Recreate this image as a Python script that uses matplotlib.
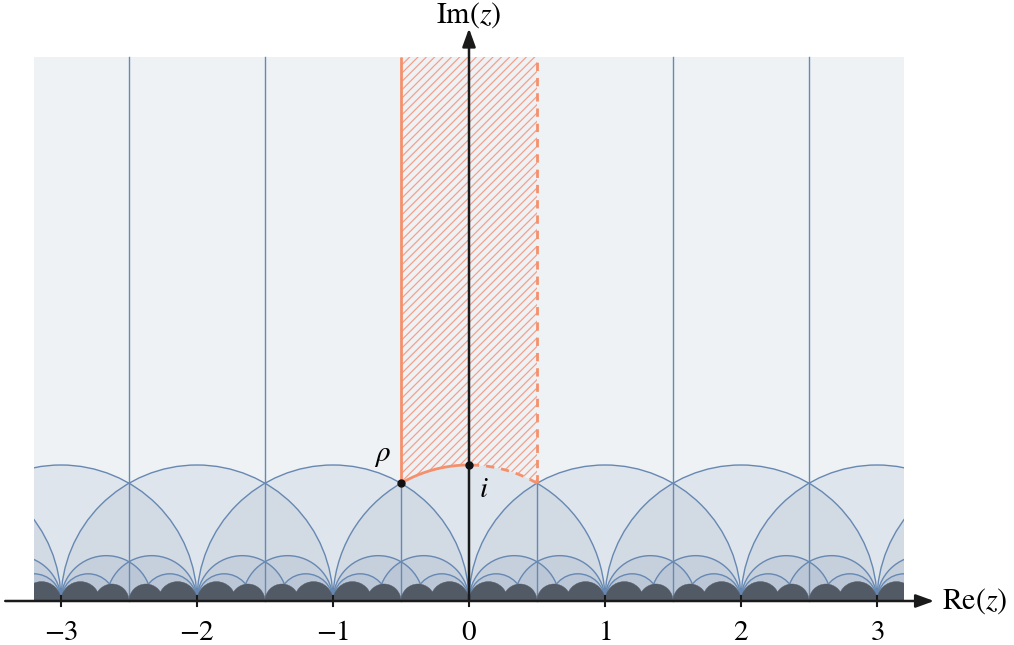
import numpy as np
import matplotlib.pyplot as plt
from matplotlib.patches import Rectangle, Wedge, Arc, Polygon
from math import gcd

# geodesics of the modular tessellation: radius = 1/(q*s) for cusps p/q, r/s
line_levels = [1, 3, 5]      # half-discs drawn with outlines and light fill
dark_levels = [7, 8]         # half-discs filled solid near the real axis
half_lines = [-2.5, -1.5, -0.5, 0.5, 1.5, 2.5]
ticks = [-3, -2, -1, 0, 1, 2, 3]
tick_labels = ['$-3$', '$-2$', '$-1$', '$0$', '$1$', '$2$', '$3$']
x_min, x_max, y_top = -3.2, 3.2, 4.0

bg_col = '#eef2f5'
fill_col = '#627aa5'
line_col = '#6688b2'
dark_col = '#525a66'
salmon = '#f4916c'
hatch_col = '#f4a08a'

plt.rcParams['mathtext.fontset'] = 'stix'
plt.rcParams['hatch.linewidth'] = 0.9


def geodesics(k):
    out = []
    for q in range(1, k + 1):
        if k % q:
            continue
        s = k // q
        if (q - s) % 2:
            continue
        for p in range(-5 * q, 5 * q + 1):
            if gcd(p, q) != 1 or (p * s + 2) % q:
                continue
            r = (p * s + 2) // q
            if gcd(r, s) != 1 or (r - p) % 2:
                continue
            a, b = p / q, r / s
            if b < x_min - 0.1 or a > x_max + 0.1:
                continue
            out.append(((a + b) / 2, (b - a) / 2))
    return out


fig = plt.figure(figsize=(10.14, 6.45), dpi=100)
ax = fig.add_axes([0, 0, 1, 1])
ax.set_xlim(-469 / 136, (1014 - 469) / 136)
ax.set_ylim(-(645 - 601) / 136, 601 / 136)
ax.axis('off')

bg = Rectangle((x_min, 0), x_max - x_min, y_top, fc=bg_col, ec='none', zorder=1)
ax.add_patch(bg)

# light nested fills + outlines
for k in line_levels:
    for c, r in geodesics(k):
        w = Wedge((c, 0), r, 0, 180, fc=fill_col, alpha=0.1, lw=0, zorder=2)
        ax.add_patch(w)
        w.set_clip_path(bg)
        spans = [(0, 60), (120, 180)] if (k == 1 and abs(c) < 1e-9) else [(0, 180)]
        for t1, t2 in spans:
            a = Arc((c, 0), 2 * r, 2 * r, theta1=t1, theta2=t2, color=line_col, lw=1.0, zorder=3)
            ax.add_patch(a)
            a.set_clip_path(bg)

h = np.sqrt(3) / 2
for x in half_lines:
    top = h if abs(x) == 0.5 else y_top
    ax.plot([x, x], [0, top], color=line_col, lw=1.0, zorder=3)

# dark region near the real axis
for k in dark_levels:
    for c, r in geodesics(k):
        w = Wedge((c, 0), r, 0, 180, fc=dark_col, ec=dark_col, lw=0.3, zorder=4)
        ax.add_patch(w)
        w.set_clip_path(bg)

# fundamental domain
th = np.linspace(np.pi / 3, 2 * np.pi / 3, 60)
verts = [(-0.5, y_top), (0.5, y_top)] + list(zip(np.cos(th), np.sin(th)))
ax.add_patch(Polygon(verts, closed=True, fc='none', ec=hatch_col, lw=0, hatch='////', zorder=5))

ax.plot([-0.5, -0.5], [h, y_top], color=salmon, lw=2.0, zorder=6, solid_capstyle='butt')
ax.plot([0.5, 0.5], [h, y_top], color=salmon, lw=2.0, zorder=6, ls=(0, (3, 2.5)))
t_solid = np.linspace(np.pi / 2, 2 * np.pi / 3, 40)
t_dash = np.linspace(np.pi / 3, np.pi / 2, 40)
ax.plot(np.cos(t_solid), np.sin(t_solid), color=salmon, lw=2.0, zorder=6)
ax.plot(np.cos(t_dash), np.sin(t_dash), color=salmon, lw=2.0, zorder=6, ls=(0, (3, 2.5)))

# axes
arrow = dict(arrowstyle='-|>,head_length=0.55,head_width=0.2', lw=1.8, color='#1a1a1a',
             shrinkA=0, shrinkB=0, mutation_scale=20)
ax.annotate('', xy=(3.42, 0), xytext=(-3.41, 0), arrowprops=arrow, zorder=7)
ax.annotate('', xy=(0, 4.21), xytext=(0, 0), arrowprops=arrow, zorder=7)
for t, lab in zip(ticks, tick_labels):
    ax.plot([t, t], [-0.04, 0.04], color='#1a1a1a', lw=1.5, zorder=7)
    ax.text(t, -0.225, lab, ha='center', va='center', fontsize=21)

ax.text(3.48, 0.0, r'$\mathrm{Re}(z)$', ha='left', va='center', fontsize=21.5)
ax.text(0.0, 4.31, r'$\mathrm{Im}(z)$', ha='center', va='center', fontsize=21.5)

ax.plot([-0.5, 0], [h, 1], 'o', color='#111111', ms=5, zorder=8)
ax.text(-0.64, 1.07, r'$\rho$', ha='center', va='center', fontsize=21)
ax.text(0.11, 0.82, r'$i$', ha='center', va='center', fontsize=21)

fig.savefig('out.png', dpi=100)
